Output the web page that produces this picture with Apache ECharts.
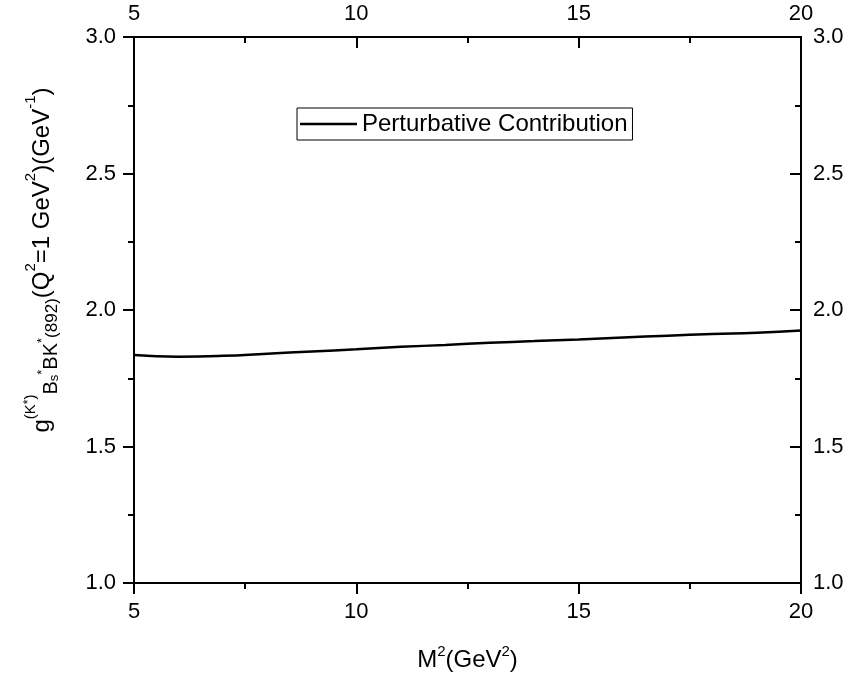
<!DOCTYPE html>
<html><head><meta charset="utf-8">
<script src="https://cdn.jsdelivr.net/npm/echarts@6/dist/echarts.min.js"></script>
<style>html,body{margin:0;padding:0;background:#fff}#c{width:851px;height:677px}</style>
</head><body><div id="c"></div>
<script>
const xValues = [5, 6, 7, 8, 9, 10, 11, 12, 13, 14, 15, 16, 17, 18, 19, 20];
const perturbative = [1.835, 1.829, 1.832, 1.840, 1.848, 1.856, 1.865, 1.872, 1.880, 1.886, 1.892, 1.899, 1.906, 1.912, 1.917, 1.925];
const seriesName = 'Perturbative Contribution';

const FONT = '"Liberation Sans", Arial, sans-serif';
const chart = echarts.init(document.getElementById('c'));
const axisLine = {show: true, onZero: false, lineStyle: {color: '#000', width: 2}};
const lbl = {color: '#000', fontSize: 22, fontFamily: FONT};
function xAx(pos, inside, margin) {
  return {type: 'value', position: pos, min: 5, max: 20, interval: 5,
    axisLine: axisLine,
    axisTick: {show: true, inside: inside, length: 11, lineStyle: {color: '#000', width: 2}},
    minorTick: {show: true, splitNumber: 2, length: 6, lineStyle: {color: '#000', width: 2}},
    axisLabel: Object.assign({margin: margin, showMinLabel: true, showMaxLabel: true}, lbl),
    splitLine: {show: false}};
}
function yAx(pos, inside, margin) {
  return {type: 'value', position: pos, min: 1.0, max: 3.0, interval: 0.5,
    axisLine: axisLine,
    axisTick: {show: true, inside: inside, length: 11, lineStyle: {color: '#000', width: 2}},
    minorTick: {show: true, splitNumber: 2, length: 6, lineStyle: {color: '#000', width: 2}},
    axisLabel: Object.assign({margin: margin, showMinLabel: true, showMaxLabel: true, formatter: v => v.toFixed(1)}, lbl),
    splitLine: {show: false}};
}
const xb = xAx('bottom', false, 18);
xb.name = '{m|M}{sup|2}{m|(GeV}{sup|2}{m|)}';
xb.nameLocation = 'middle';
xb.nameGap = 61;
xb.nameTextStyle = {rich: {
  m: {fontSize: 24, fontFamily: FONT, color: '#000', lineHeight: 32},
  sup: {fontSize: 15, fontFamily: FONT, color: '#000', lineHeight: 15, verticalAlign: 'top'}
}};
const xt = xAx('top', true, 12);
const yl = yAx('left', false, 18);
yl.name = '{m|g}{sup|(K}{supsup|*}{sup|)}{sub|B}{subsub|s}{subsup|*}{sub|BK}{subsup|*}{sub2|(892)}{m|(Q}{sup|2}{m|=1 GeV}{sup|2}{m|)(GeV}{sup|-1}{m|)}';
yl.nameLocation = 'middle';
yl.nameGap = 73;
yl.nameTextStyle = {padding: [0, 0, 0, 100], rich: {
  m: {fontSize: 24, fontFamily: FONT, color: '#000', lineHeight: 38},
  sup: {fontSize: 15, fontFamily: FONT, color: '#000', lineHeight: 15, verticalAlign: 'top'},
  supsup: {fontSize: 12, fontFamily: FONT, color: '#000', lineHeight: 8, verticalAlign: 'top'},
  sub: {fontSize: 20, fontFamily: FONT, color: '#000', lineHeight: 20, verticalAlign: 'bottom'},
  sub2: {fontSize: 17, fontFamily: FONT, color: '#000', lineHeight: 18, verticalAlign: 'bottom'},
  subsub: {fontSize: 13, fontFamily: FONT, color: '#000', lineHeight: 6, verticalAlign: 'bottom'},
  subsup: {fontSize: 13, fontFamily: FONT, color: '#000', lineHeight: 13, verticalAlign: 'middle'}
}};
const yr = yAx('right', true, 12);

chart.setOption({
  animation: false,
  backgroundColor: '#fff',
  grid: {left: 134, right: 50, top: 37, bottom: 94, containLabel: false, outerBoundsMode: 'none'},
  legend: {
    data: [{name: seriesName, icon: 'rect'}], left: 297, top: 108, orient: 'horizontal',
    borderColor: '#000', borderWidth: 1, borderRadius: 0,
    padding: [4, 5, 4, 3], itemWidth: 57, itemHeight: 2.5, itemGap: 8,
    itemStyle: {color: '#000'},
    textStyle: {color: '#000', fontSize: 24, fontFamily: FONT, padding: [0, 0, 0, 0]}
  },
  xAxis: [xb, xt],
  yAxis: [yl, yr],
  series: [{
    name: seriesName, type: 'line', xAxisIndex: 0, yAxisIndex: 0,
    data: xValues.map((x, i) => [x, perturbative[i]]),
    symbol: 'none', smooth: true,
    lineStyle: {color: '#000', width: 2.5}, itemStyle: {color: '#000'}
  }]
});
</script></body></html>
